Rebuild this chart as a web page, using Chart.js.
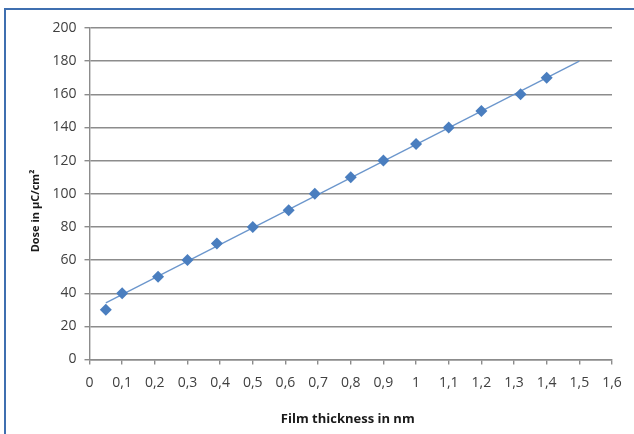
<!DOCTYPE html>
<html>
<head>
<meta charset="utf-8">
<script src="https://cdn.jsdelivr.net/npm/chart.js@4.4.1/dist/chart.umd.min.js"></script>
<style>
  html, body { margin: 0; padding: 0; background: #ffffff; }
  #wrap { position: relative; width: 634px; height: 434px; overflow: hidden; }
  #frame { position: absolute; left: 4px; top: 8px; width: 700px; height: 500px;
           border-left: 2px solid #3f6fb0; border-top: 2px solid #3f6fb0; }
  canvas { position: absolute; left: 0; top: 0; }
</style>
</head>
<body>
<div id="wrap">
  <div id="frame"></div>
  <canvas id="c" width="634" height="434"></canvas>
</div>
<script>
// Data
const thickness = [0.05, 0.1, 0.21, 0.3, 0.39, 0.5, 0.61, 0.69, 0.8, 0.9, 1.0, 1.1, 1.2, 1.32, 1.4];
const dose      = [30, 40, 50, 60, 70, 80, 90, 100, 110, 120, 130, 140, 150, 160, 170];
// Linear trendline end points as drawn in the reference
const trendX = [0.05, 1.5];
const trendY = [34.2, 180];
// Tick labels
const xTickLabels = ['0','0,1','0,2','0,3','0,4','0,5','0,6','0,7','0,8','0,9','1','1,1','1,2','1,3','1,4','1,5','1,6'];
const yTickLabels = ['0','20','40','60','80','100','120','140','160','180','200'];
const xTitle = 'Film thickness in nm';
const yTitle = 'Dose in µC/cm²';

const pointData = thickness.map((x, i) => ({ x: x, y: dose[i] }));
const trendData = trendX.map((x, i) => ({ x: x, y: trendY[i] }));

const titlesPlugin = {
  id: 'axisTitles',
  afterDraw(chart) {
    const ctx = chart.ctx;
    const a = chart.chartArea;
    ctx.save();
    ctx.fillStyle = '#1a1a1a';
    ctx.textAlign = 'center';
    ctx.textBaseline = 'middle';
    ctx.font = 'bold 13px "Open Sans", sans-serif';
    ctx.fillText(xTitle, (a.left + a.right) / 2 - 3, 419);
    ctx.translate(36, 211);
    ctx.rotate(-Math.PI / 2);
    ctx.font = 'bold 11px "Open Sans", sans-serif';
    ctx.fillText(yTitle, 0, 0);
    ctx.restore();
  }
};

new Chart(document.getElementById('c'), {
  type: 'scatter',
  data: {
    datasets: [
      {
        label: 'Trend',
        data: trendData,
        showLine: true,
        borderColor: '#6b96cc',
        borderWidth: 1.3,
        pointRadius: 0,
        pointHoverRadius: 0,
        fill: false,
        order: 2
      },
      {
        label: 'Dose',
        data: pointData,
        pointStyle: 'rectRot',
        pointRadius: 6,
        pointHoverRadius: 6,
        backgroundColor: '#4a7ebf',
        borderColor: '#4a7ebf',
        borderWidth: 0,
        order: 1
      }
    ]
  },
  options: {
    responsive: false,
    animation: false,
    devicePixelRatio: 1,
    layout: { padding: { left: 0, right: 22, top: 28, bottom: 0 } },
    plugins: { legend: { display: false }, tooltip: { enabled: false } },
    scales: {
      x: {
        type: 'linear',
        min: 0, max: 1.6,
        afterFit(scale) { scale.height = 74.5; },
        afterBuildTicks(scale) {
          scale.ticks = xTickLabels.map((_, i) => ({ value: i / 10 }));
        },
        ticks: {
          autoSkip: false,
          maxRotation: 0,
          padding: 10,
          color: '#404040',
          font: { family: '"Open Sans", sans-serif', size: 14 },
          callback: (v, i) => xTickLabels[i]
        },
        grid: { drawOnChartArea: false, drawTicks: true, tickLength: 5, color: '#8c8c8c', lineWidth: 1.4 },
        border: { display: true, color: '#8c8c8c', width: 1.4 }
      },
      y: {
        type: 'linear',
        min: 0, max: 200,
        afterFit(scale) { scale.width = 89.5; },
        afterBuildTicks(scale) {
          scale.ticks = yTickLabels.map((_, i) => ({ value: i * 20 }));
        },
        ticks: {
          autoSkip: false,
          padding: 8,
          color: '#404040',
          font: { family: '"Open Sans", sans-serif', size: 14 },
          callback: (v, i) => yTickLabels[i]
        },
        grid: { drawOnChartArea: true, drawTicks: true, tickLength: 5, color: '#8c8c8c', lineWidth: 1.4 },
        border: { display: true, color: '#8c8c8c', width: 1.4 }
      }
    }
  },
  plugins: [titlesPlugin]
});
</script>
</body>
</html>
